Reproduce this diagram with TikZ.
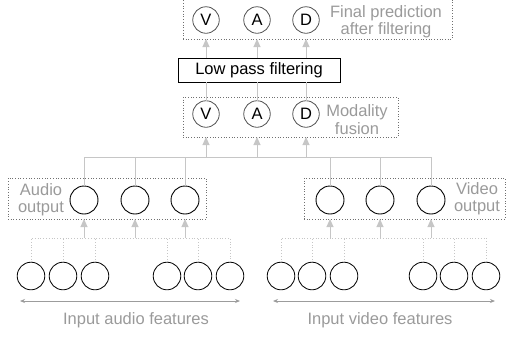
\documentclass[tikz,border=0pt]{standalone}
\usepackage{fontspec}
\setmainfont{Liberation Sans}
\usetikzlibrary{arrows.meta}
\definecolor{lgray}{HTML}{C6C6C6}
\definecolor{tgray}{HTML}{9A9A9A}
\definecolor{bgray}{HTML}{707070}
\definecolor{cgray}{HTML}{555555}
\definecolor{agray}{HTML}{9C9C9C}
\begin{document}
\begin{tikzpicture}[x=1pt,y=-1pt,
  every node/.style={font=\fontsize{16.5}{17.5}\selectfont, inner sep=0pt, outer sep=0pt},
  vad/.style={circle, draw=cgray, line width=0.8pt, minimum size=26.5pt, text=black},
  outc/.style={circle, draw=black, line width=0.9pt, minimum size=28pt},
  inc/.style={circle, draw=black, line width=0.8pt, minimum size=27.6pt},
  grp/.style={draw=bgray, dotted, line width=0.7pt},
  lab/.style={text=tgray, align=center},
  conn/.style={draw=lgray, line width=1pt},
  arr/.style={conn, -{Triangle[length=8pt,width=7pt]}},
  fine/.style={draw=lgray, dotted, line width=0.8pt},
  span/.style={draw=agray, line width=0.8pt, {Stealth[length=5pt,width=4pt]}-{Stealth[length=5pt,width=4pt]}},
]
\useasboundingbox (0,0) rectangle (506,338);

% group boxes
\node[grp, minimum width=269pt, minimum height=42pt] (topbox) at (317.5,18) {};
\node[draw=black, line width=0.9pt, minimum width=162pt, minimum height=24pt] (lpf) at (259,70) {Low pass filtering};
\node[grp, minimum width=215pt, minimum height=40pt] (fusbox) at (290.5,117) {};
\node[grp, minimum width=198pt, minimum height=41pt] (audbox) at (107,198.5) {};
\node[grp, minimum width=201pt, minimum height=41pt] (vidbox) at (404.5,198.5) {};

% V A D nodes
\node[vad] (V1) at (206,20) {V};
\node[vad] (A1) at (257,20) {A};
\node[vad] (D1) at (306,20) {D};
\node[vad] (V2) at (206,114) {V};
\node[vad] (A2) at (257,114) {A};
\node[vad] (D2) at (306,114) {D};

% labels
\node[lab] (flab) at (386,21.5) {Final prediction\\after filtering};
\node[lab] (mlab) at (357,119.5) {Modality\\fusion};
\node[lab] (alab) at (41,199.5) {Audio\\output};
\node[lab] (vlab) at (477,198.5) {Video\\output};
\node[lab] (ailab) at (136,320) {Input audio features};
\node[lab] (vilab) at (380,320) {Input video features};

% output circles
\node[outc] (ao1) at (84,200) {};
\node[outc] (ao2) at (135,200) {};
\node[outc] (ao3) at (185,200) {};
\node[outc] (vo1) at (330,200) {};
\node[outc] (vo2) at (380,200) {};
\node[outc] (vo3) at (431,200) {};

% input circles
\foreach \i/\x in {1/31,2/63,3/95,4/167,5/198,6/230}
  \node[inc] (ai\i) at (\x,276) {};
\foreach \i/\x in {1/281,2/312,3/344,4/423,5/454,6/486}
  \node[inc] (vi\i) at (\x,276) {};

% filtering to final
\foreach \n in {V,A,D}
  \draw[arr] (lpf.north -| \n1) -- (topbox.south -| \n1);
% fusion to filtering
\foreach \n in {V,A,D}
  \draw[conn] (\n2.north) -- (lpf.south -| \n2);

% outputs to fusion
\coordinate (bus) at (0,157);
\draw[conn] (ao1.north) -- (ao1.north |- bus) -- (vo3.north |- bus) -- (vo3.north);
\foreach \n in {ao2,ao3,vo1,vo2}
  \draw[conn] (\n.north) -- (\n.north |- bus);
\foreach \n in {V,A,D}
  \draw[arr] (\n2 |- bus) -- (fusbox.south -| \n2);

% inputs to outputs
\coordinate (ibus) at (0,238);
\draw[fine] (ai1.north) -- (ai1.north |- ibus) -- (ai6.north |- ibus) -- (ai6.north);
\foreach \i in {2,3,4,5}
  \draw[fine] (ai\i.north) -- (ai\i.north |- ibus);
\draw[fine] (vi1.north) -- (vi1.north |- ibus) -- (vi6.north |- ibus) -- (vi6.north);
\foreach \i in {2,3,4,5}
  \draw[fine] (vi\i.north) -- (vi\i.north |- ibus);
\foreach \n in {ao1,ao2,ao3}
  \draw[arr] (\n |- ibus) -- (audbox.south -| \n);
\foreach \n in {vo1,vo2,vo3}
  \draw[arr] (\n |- ibus) -- (vidbox.south -| \n);

% span arrows
\coordinate (aL) at (20,301);
\coordinate (aR) at (240,301);
\coordinate (vL) at (273,301);
\coordinate (vR) at (495,301);
\draw[span] (aL) -- (aR);
\draw[span] (vL) -- (vR);
\end{tikzpicture}
\end{document}
